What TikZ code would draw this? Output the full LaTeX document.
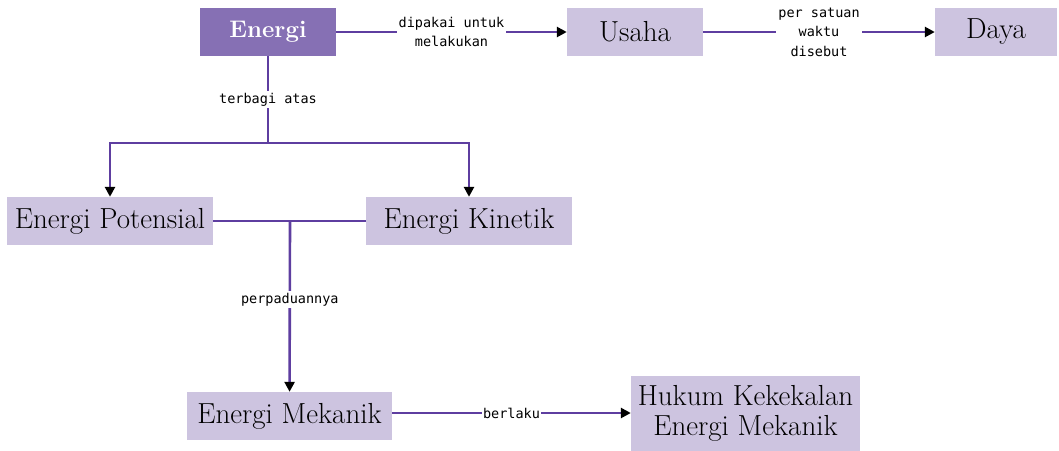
\documentclass[tikz,border=0pt]{standalone}
\usepackage{fontspec}
\usepackage{tikz}
\usepackage{xcolor}
\usetikzlibrary{arrows.meta, positioning}
\newfontfamily\labelfont{DejaVu Sans Mono}
\definecolor{boxpurple}{RGB}{205,196,224}
\definecolor{headpurple}{RGB}{134,112,180}
\definecolor{linepurple}{RGB}{94,62,160}

\begin{document}
\begin{tikzpicture}[
		x=1pt, y=-1pt,
		concept/.style={fill=boxpurple, minimum height=48pt, inner sep=0pt, align=center,
			font=\fontsize{29}{30}\selectfont},
		headconcept/.style={concept, fill=headpurple, text=white,
			font=\fontsize{24}{28}\selectfont\bfseries},
		link/.style={line width=2.6pt, draw=linepurple},
		arrow/.style={link, -{Triangle[length=10pt, width=10pt, color=black]}},
		linktext/.style={fill=white, inner sep=2pt, align=center,
			font=\labelfont\fontsize{13.5}{19.5}\selectfont}
	]
		\useasboundingbox (0,0) rectangle (1059,450);
		% top row
		\node[headconcept, minimum width=136pt] (energi) at (268,32) {Energi};
		\node[concept, minimum width=136pt] (usaha) at (635,32) {Usaha};
		\node[concept, minimum width=122pt] (daya) at (996,32) {Daya};
		% forms of energy
		\node[concept, minimum width=206pt] (potensial) at (110,221) {Energi Potensial};
		\node[concept, minimum width=206pt] (kinetik) at (469,221) {Energi Kinetik};
		\node[concept, minimum width=205pt] (mekanik) at (289.5,416) {Energi Mekanik};
		\node[concept, minimum width=229pt, minimum height=75pt] (hukum) at (745.5,413)
			{Hukum Kekekalan\\Energi Mekanik};
		\coordinate (split) at (268,143);
		\coordinate (merge) at (290,221);

		\draw[arrow] (energi) -- node[linktext] {dipakai untuk\\melakukan} (usaha);
		\draw[arrow] (usaha) -- node[linktext] {per satuan\\waktu\\disebut} (daya);
		\draw[link] (energi) -- node[linktext] {terbagi atas} (split);
		\draw[arrow] (split) -| (potensial);
		\draw[arrow] (split) -| (kinetik);
		\draw[link] (potensial) -- (kinetik);
		\draw[arrow] (merge) -- node[linktext, pos=0.46] {perpaduannya} (mekanik);
		\draw[arrow] (mekanik.east |- 0,413) -- node[linktext, inner sep=1pt] {berlaku} (hukum.west |- 0,413);
	\end{tikzpicture}
\end{document}
